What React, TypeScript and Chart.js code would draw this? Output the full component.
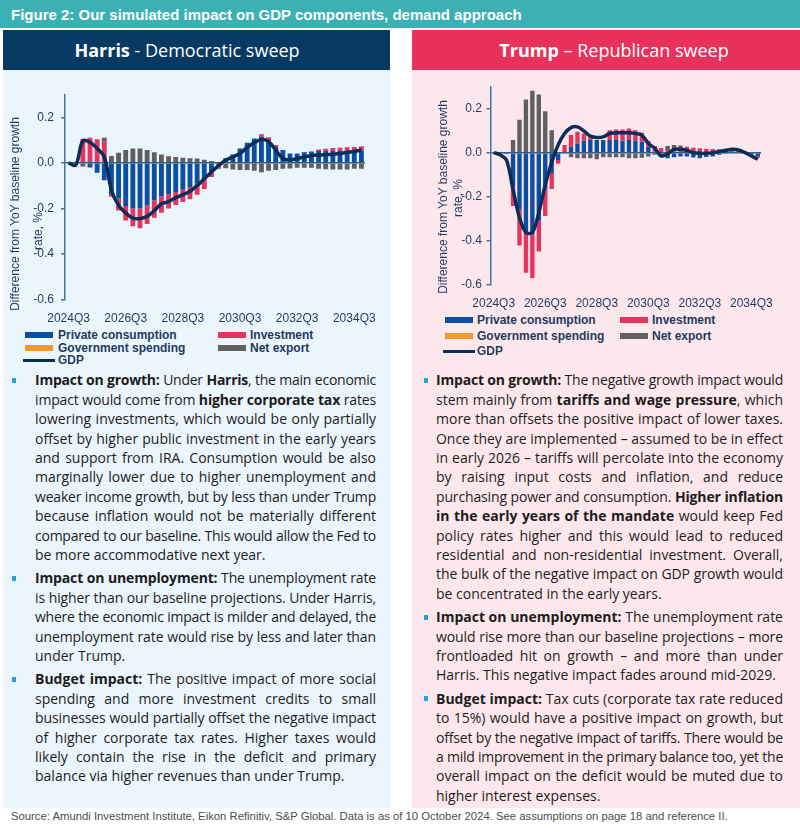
import React, { useEffect, useLayoutEffect, useRef } from 'react';
import { Chart, registerables } from 'chart.js';
Chart.register(...registerables);

// ---------- DATA ----------
const QUARTERS = [
  '2024Q3', '2024Q4',
  '2025Q1', '2025Q2', '2025Q3', '2025Q4',
  '2026Q1', '2026Q2', '2026Q3', '2026Q4',
  '2027Q1', '2027Q2', '2027Q3', '2027Q4',
  '2028Q1', '2028Q2', '2028Q3', '2028Q4',
  '2029Q1', '2029Q2', '2029Q3', '2029Q4',
  '2030Q1', '2030Q2', '2030Q3', '2030Q4',
  '2031Q1', '2031Q2', '2031Q3', '2031Q4',
  '2032Q1', '2032Q2', '2032Q3', '2032Q4',
  '2033Q1', '2033Q2', '2033Q3', '2033Q4',
  '2034Q1', '2034Q2', '2034Q3', '2034Q4',
];

const Y_TICKS = [-0.6, -0.4, -0.2, 0, 0.2];

const SERIES_NAMES = ['Private consumption', 'Investment', 'Government spending', 'Net export', 'GDP'];

// Harris - Democratic sweep
const harrisConsumption = [0, 0, -0.003, -0.02, -0.044, -0.076, -0.137, -0.157, -0.19, -0.2, -0.2, -0.187, -0.165, -0.147, -0.138, -0.128, -0.118, -0.106, -0.091, -0.074, -0.042, -0.005, 0.02, 0.037, 0.063, 0.088, 0.107, 0.115, 0.1, 0.07, 0.056, 0.041, 0.041, 0.046, 0.048, 0.052, 0.053, 0.053, 0.053, 0.054, 0.054, 0.054];
const harrisInvestment = [0, 0, 0.105, 0.11, 0.103, 0.093, -0.012, -0.052, -0.063, -0.078, -0.087, -0.081, -0.076, -0.072, -0.062, -0.057, -0.054, -0.054, -0.049, -0.041, -0.02, -0.016, -0.004, -0.005, -0.004, 0, 0, 0.011, 0.012, 0.008, 0, 0, 0, 0.002, 0.003, 0.007, 0.009, 0.012, 0.013, 0.014, 0.016, 0.019];
const harrisGovernment = [0, 0, 0, 0, 0, 0, 0, 0, 0, 0, 0, 0, 0, 0, 0, 0, 0, 0, 0, 0, 0, 0, 0, 0, 0, 0, 0, 0, 0, 0, 0, 0, 0, 0, 0, 0, 0, 0, 0, 0, 0, 0];
const harrisNetExport = [0, 0, -0.013, 0, 0, 0.017, 0.03, 0.044, 0.056, 0.063, 0.063, 0.056, 0.047, 0.037, 0.029, 0.026, 0.022, 0.02, 0.019, 0.013, 0.008, -0.005, -0.02, -0.024, -0.028, -0.032, -0.035, -0.041, -0.035, -0.032, -0.026, -0.025, -0.022, -0.022, -0.022, -0.026, -0.028, -0.029, -0.029, -0.029, -0.026, -0.026];
const harrisGDP = [0, -0.01, 0.097, 0.09, 0.063, 0.026, -0.12, -0.187, -0.22, -0.243, -0.245, -0.235, -0.21, -0.18, -0.17, -0.153, -0.14, -0.125, -0.1, -0.07, -0.04, -0.012, 0.012, 0.026, 0.041, 0.068, 0.088, 0.103, 0.093, 0.056, 0.019, 0.012, 0.019, 0.026, 0.031, 0.034, 0.036, 0.038, 0.041, 0.046, 0.05, 0.056];

// Trump - Republican sweep
const trumpConsumption = [0, 0, -0.006, -0.155, -0.26, -0.37, -0.37, -0.31, -0.168, -0.093, -0.033, 0, 0.027, 0.042, 0.054, 0.057, 0.057, 0.057, 0.057, 0.06, 0.054, 0.057, 0.054, 0.05, 0.027, 0.005, -0.021, -0.026, -0.021, -0.018, -0.018, -0.022, -0.025, -0.02, -0.018, -0.01, -0.005, -0.004, -0.004, -0.005, -0.008, -0.015];
const trumpInvestment = [0, 0, 0, -0.088, -0.163, -0.177, -0.2, -0.14, -0.12, -0.072, -0.018, 0.035, 0.053, 0.053, 0.033, 0.012, 0, 0, 0.045, 0.045, 0.051, 0.053, 0.048, 0.04, 0.027, 0.025, 0.021, 0.012, 0.005, 0.01, 0.027, 0.022, 0.02, 0.018, 0.017, 0.005, 0.004, 0.004, 0.002, 0, -0.003, -0.008];
const trumpGovernment = [0, 0, 0, 0, 0, 0, 0, 0, 0, 0, 0, 0, 0, 0, 0, 0, 0, 0, 0, 0, 0, 0, 0, 0, 0, 0, 0, 0, 0, 0, 0, 0, 0, 0, 0, 0, 0, 0, 0, 0, 0, 0];
const trumpNetExport = [0, 0, 0, 0.057, 0.15, 0.242, 0.282, 0.264, 0.188, 0.102, 0, 0, -0.021, -0.026, -0.026, -0.026, -0.03, -0.021, -0.021, -0.021, -0.021, -0.026, -0.026, -0.023, -0.018, -0.01, 0, 0.018, 0.03, 0.022, 0, 0, 0, 0, 0, 0.01, 0.014, 0.016, 0.014, 0.006, 0.002, 0];
const trumpGDP = [0, -0.01, -0.035, -0.168, -0.296, -0.363, -0.363, -0.273, -0.146, -0.045, 0.035, 0.087, 0.114, 0.117, 0.099, 0.075, 0.069, 0.072, 0.087, 0.09, 0.09, 0.09, 0.087, 0.08, 0.042, 0.02, -0.015, -0.005, 0.015, 0.015, 0.01, 0, -0.003, -0.003, 0, 0.005, 0.01, 0.015, 0.012, 0, -0.015, -0.03];

// ---------- TEXT ----------
const TITLE = 'Figure 2: Our simulated impact on GDP components, demand approach';
const SOURCE = 'Source: Amundi Investment Institute, Eikon Refinitiv, S&P Global. Data is as of 10 October 2024. See assumptions on page 18 and reference II.';
const Y_TITLE = ['Difference from YoY baseline growth', 'rate, %'];

const HARRIS_TEXT = [
  [
    '**Impact on growth:** Under **Harris**, the main economic',
    'impact would come from **higher corporate tax** rates',
    'lowering investments, which would be only partially',
    'offset by higher public investment in the early years',
    'and support from IRA. Consumption would be also',
    'marginally lower due to higher unemployment and',
    'weaker income growth, but by less than under Trump',
    'because inflation would not be materially different',
    'compared to our baseline. This would allow the Fed to',
    'be more accommodative next year.',
  ],
  [
    '**Impact on unemployment:** The unemployment rate',
    'is higher than our baseline projections. Under Harris,',
    'where the economic impact is milder and delayed, the',
    'unemployment rate would rise by less and later than',
    'under Trump.',
  ],
  [
    '**Budget impact:** The positive impact of more social',
    'spending and more investment credits to small',
    'businesses would partially offset the negative impact',
    'of higher corporate tax rates. Higher taxes would',
    'likely contain the rise in the deficit and primary',
    'balance via higher revenues than under Trump.',
  ],
];

const TRUMP_TEXT = [
  [
    '**Impact on growth:** The negative growth impact would',
    'stem mainly from **tariffs and wage pressure**, which',
    'more than offsets the positive impact of lower taxes.',
    'Once they are implemented \u2013 assumed to be in effect',
    'in early 2026 \u2013 tariffs will percolate into the economy',
    'by raising input costs and inflation, and reduce',
    'purchasing power and consumption. **Higher inflation**',
    '**in the early years of the mandate** would keep Fed',
    'policy rates higher and this would lead to reduced',
    'residential and non-residential investment. Overall,',
    'the bulk of the negative impact on GDP growth would',
    'be concentrated in the early years.',
  ],
  [
    '**Impact on unemployment:** The unemployment rate',
    'would rise more than our baseline projections \u2013 more',
    'frontloaded hit on growth \u2013 and more than under',
    'Harris. This negative impact fades around mid-2029.',
  ],
  [
    '**Budget impact:** Tax cuts (corporate tax rate reduced',
    'to 15%) would have a positive impact on growth, but',
    'offset by the negative impact of tariffs. There would be',
    'a mild improvement in the primary balance too, yet the',
    'overall impact on the deficit would be muted due to',
    'higher interest expenses.',
  ],
];

// ---------- STYLE ----------
const C_PC = '#0b4ea2';
const C_INV = '#e5345e';
const C_GOV = '#f39a2e';
const C_NX = '#5f5f5f';
const C_GDP = '#0c2d57';
const SERIES_COLORS = [C_PC, C_INV, C_GOV, C_NX, C_GDP];
const AXIS_TEXT = '#1f3a5f';
const AXIS_LINE = '#45759b';
const ZERO_LINE = '#2f5e88';

type ChartGeom = {
  left: number; top: number; width: number; height: number;
  padTop: number; padRight: number; yWidth: number; xHeight: number; yPad: number; xPad: number;
};

function GdpChart(props: { g: ChartGeom; pc: number[]; inv: number[]; gov: number[]; nx: number[]; gdp: number[] }) {
  const ref = useRef<HTMLCanvasElement>(null);
  const { g } = props;
  useEffect(() => {
    const bar = (i: number, data: number[]) => ({
      type: 'bar' as const,
      label: SERIES_NAMES[i],
      data,
      backgroundColor: SERIES_COLORS[i],
      borderWidth: 0,
      stack: 'components',
      order: 1,
      barPercentage: 0.68,
      categoryPercentage: 1,
    });
    const chart = new Chart(ref.current as HTMLCanvasElement, {
      type: 'bar',
      data: {
        labels: QUARTERS,
        datasets: [
          {
            type: 'line' as const,
            label: SERIES_NAMES[4],
            data: props.gdp,
            borderColor: C_GDP,
            backgroundColor: C_GDP,
            borderWidth: 3.5,
            pointRadius: 0,
            tension: 0.35,
            fill: false,
            stack: 'gdp',
            order: 0,
          } as any,
          bar(0, props.pc),
          bar(1, props.inv),
          bar(2, props.gov),
          bar(3, props.nx),
        ],
      },
      options: {
        animation: false,
        responsive: false,
        maintainAspectRatio: false,
        layout: { padding: { top: g.padTop, right: g.padRight, left: 0, bottom: 0 } },
        plugins: { legend: { display: false }, tooltip: { enabled: false }, title: { display: false } },
        scales: {
          x: {
            stacked: true,
            offset: true,
            grid: { display: false },
            border: { display: false },
            ticks: {
              autoSkip: false,
              maxRotation: 0,
              minRotation: 0,
              padding: g.xPad,
              color: AXIS_TEXT,
              font: { family: 'Arial, "Liberation Sans", sans-serif', size: 12 },
              callback: (_v: any, i: number) => (i % 8 === 0 ? QUARTERS[i] : ''),
            },
            afterFit: (s: any) => { s.height = g.xHeight; },
          },
          y: {
            stacked: true,
            min: -0.6,
            max: 0.3,
            afterBuildTicks: (s: any) => {
              s.ticks = Y_TICKS.map((v) => ({ value: v }));
            },
            ticks: {
              padding: g.yPad,
              color: AXIS_TEXT,
              font: { family: 'Arial, "Liberation Sans", sans-serif', size: 12 },
              callback: (v: any) => Number(v).toFixed(1),
            },
            grid: {
              color: (ctx: any) => (ctx.tick && Math.abs(ctx.tick.value) < 1e-6 ? ZERO_LINE : 'rgba(0,0,0,0)'),
              lineWidth: 1.5,
              tickColor: AXIS_LINE,
              tickLength: 4,
            },
            border: { color: AXIS_LINE, width: 1.5 },
            afterFit: (s: any) => { s.width = g.yWidth; },
          },
        },
      } as any,
    });
    return () => chart.destroy();
  }, []);
  return (
    <div style={{ position: 'absolute', left: g.left, top: g.top, width: g.width, height: g.height }}>
      <canvas ref={ref} width={g.width} height={g.height} style={{ width: g.width, height: g.height, display: 'block' }} />
    </div>
  );
}

function YTitle(props: { x1: number; y1: number; x2: number; y2: number }) {
  const base: React.CSSProperties = {
    position: 'absolute', whiteSpace: 'nowrap', transform: 'translate(-50%, -50%) rotate(-90deg)',
    font: '12px Arial, "Liberation Sans", sans-serif', color: AXIS_TEXT, lineHeight: '14px',
  };
  return (
    <>
      <div style={{ ...base, left: props.x1, top: props.y1 }}>{Y_TITLE[0]}</div>
      <div style={{ ...base, left: props.x2, top: props.y2 }}>{Y_TITLE[1]}</div>
    </>
  );
}

function Legend(props: { x1: number; tx1: number; x2: number; tx2: number; rows: number[]; gx: number; gw: number }) {
  const txt: React.CSSProperties = {
    position: 'absolute', font: 'bold 12px Arial, "Liberation Sans", sans-serif', color: AXIS_TEXT,
    lineHeight: '14px', whiteSpace: 'nowrap', transform: 'translateY(-50%)',
  };
  const sw = (x: number, y: number, c: string, h = 6, w = 28) => (
    <div style={{ position: 'absolute', left: x, top: y - h / 2, width: w, height: h, background: c }} />
  );
  const [r1, r2, r3] = props.rows;
  return (
    <>
      {sw(props.x1, r1, C_PC)}
      <div style={{ ...txt, left: props.tx1, top: r1 }}>{SERIES_NAMES[0]}</div>
      {sw(props.x2, r1, C_INV)}
      <div style={{ ...txt, left: props.tx2, top: r1 }}>{SERIES_NAMES[1]}</div>
      {sw(props.x1, r2, C_GOV)}
      <div style={{ ...txt, left: props.tx1, top: r2 }}>{SERIES_NAMES[2]}</div>
      {sw(props.x2, r2, C_NX)}
      <div style={{ ...txt, left: props.tx2, top: r2 }}>{SERIES_NAMES[3]}</div>
      {sw(props.gx, r3, C_GDP, 3, props.gw)}
      <div style={{ ...txt, left: props.tx1, top: r3 }}>{SERIES_NAMES[4]}</div>
    </>
  );
}

function marked(s: string) {
  return s.split('**').map((p, i) => (i % 2 ? <b key={i} style={{ fontWeight: 700 }}>{p}</b> : <React.Fragment key={i}>{p}</React.Fragment>));
}

function Bullets(props: { paras: string[][]; left: number; width: number; top: number; bulletX: number }) {
  return (
    <div style={{ position: 'absolute', left: props.left, top: props.top, width: props.width, font: '14px "Open Sans", "Noto Sans", sans-serif', lineHeight: '19.4px', color: '#1c1c1c' }}>
      {props.paras.map((lines, pi) => (
        <div key={pi} style={{ position: 'relative', marginTop: pi ? 4 : 0 }}>
          <div style={{ position: 'absolute', left: props.bulletX, top: 7.5, width: 4, height: 5, background: '#2aa0d8' }} />
          {lines.map((ln, li) => {
            const last = li === lines.length - 1;
            return (
              <div key={li} className="jl" style={{ textAlign: last ? 'left' : 'justify', textAlignLast: last ? 'left' : 'justify' } as any}>
                {marked(ln)}
              </div>
            );
          })}
        </div>
      ))}
    </div>
  );
}

const LEFT_GEOM: ChartGeom = { left: 3, top: 80, width: 387, height: 245, padTop: 14.5, padRight: 25, yWidth: 62, xHeight: 25.5, yPad: 7, xPad: 4 };
const RIGHT_GEOM: ChartGeom = { left: 412, top: 75, width: 388, height: 235, padTop: 11.5, padRight: 39, yWidth: 78.5, xHeight: 25.5, yPad: 4.5, xPad: 4 };

export default function App() {
  const rootRef = useRef<HTMLDivElement>(null);
  useLayoutEffect(() => {
    const fit = () => {
      rootRef.current?.querySelectorAll('.jl').forEach((node) => {
        const el = node as HTMLElement;
        let ls = 0;
        el.style.letterSpacing = '0px';
        while (el.getBoundingClientRect().height > 25 && ls > -2) {
          ls -= 0.05;
          el.style.letterSpacing = ls.toFixed(2) + 'px';
        }
      });
    };
    fit();
    (document as any).fonts?.ready?.then(fit);
  }, []);

  const headerText: React.CSSProperties = {
    position: 'absolute', top: 50, transform: 'translate(-50%, -50%)', color: '#fff',
    font: '18px "Open Sans", sans-serif', whiteSpace: 'nowrap',
  };

  return (
    <div ref={rootRef} style={{ position: 'absolute', left: 0, top: 0, width: 800, height: 834, background: '#ffffff', overflow: 'hidden', fontFamily: 'Arial, sans-serif' }}>
      {/* title bar */}
      <div style={{ position: 'absolute', left: 0, top: 0, width: 800, height: 28, background: '#3bb0b5' }} />
      <div style={{ position: 'absolute', left: 11, top: 14, transform: 'translateY(-50%)', font: 'bold 15px Arial, "Liberation Sans", sans-serif', color: '#ffffff', whiteSpace: 'nowrap' }}>{TITLE}</div>

      {/* panels */}
      <div style={{ position: 'absolute', left: 3, top: 30, width: 387, height: 40, background: '#073a63' }} />
      <div style={{ position: 'absolute', left: 3, top: 70, width: 387, height: 738, background: '#ebf5fc' }} />
      <div style={{ position: 'absolute', left: 412, top: 30, width: 388, height: 40, background: '#e8315b' }} />
      <div style={{ position: 'absolute', left: 412, top: 70, width: 388, height: 738, background: '#fce8ec' }} />

      <div style={{ ...headerText, left: 187 }}>
        <b style={{ fontWeight: 700 }}>Harris</b>{' - Democratic sweep'}
      </div>
      <div style={{ ...headerText, left: 614 }}>
        <b style={{ fontWeight: 700 }}>Trump</b>{' \u2013 Republican sweep'}
      </div>

      {/* charts */}
      <GdpChart g={LEFT_GEOM} pc={harrisConsumption} inv={harrisInvestment} gov={harrisGovernment} nx={harrisNetExport} gdp={harrisGDP} />
      <YTitle x1={15} y1={214} x2={38} y2={231} />
      <Legend x1={25} tx1={58} x2={218} tx2={250} rows={[335, 347.5, 360]} gx={23} gw={32} />

      <GdpChart g={RIGHT_GEOM} pc={trumpConsumption} inv={trumpInvestment} gov={trumpGovernment} nx={trumpNetExport} gdp={trumpGDP} />
      <YTitle x1={443} y1={197} x2={458} y2={198} />
      <Legend x1={445} tx1={477} x2={620} tx2={652} rows={[320, 336, 351]} gx={443} gw={32} />

      {/* commentary */}
      <Bullets paras={HARRIS_TEXT} left={35} width={341} top={370.3} bulletX={-23} />
      <Bullets paras={TRUMP_TEXT} left={436} width={347} top={370.3} bulletX={-12} />

      {/* source */}
      <div style={{ position: 'absolute', left: 11, top: 816, transform: 'translateY(-50%)', font: '11.3px Arial, "Liberation Sans", sans-serif', color: '#4d4d4d', whiteSpace: 'nowrap' }}>{SOURCE}</div>
    </div>
  );
}
